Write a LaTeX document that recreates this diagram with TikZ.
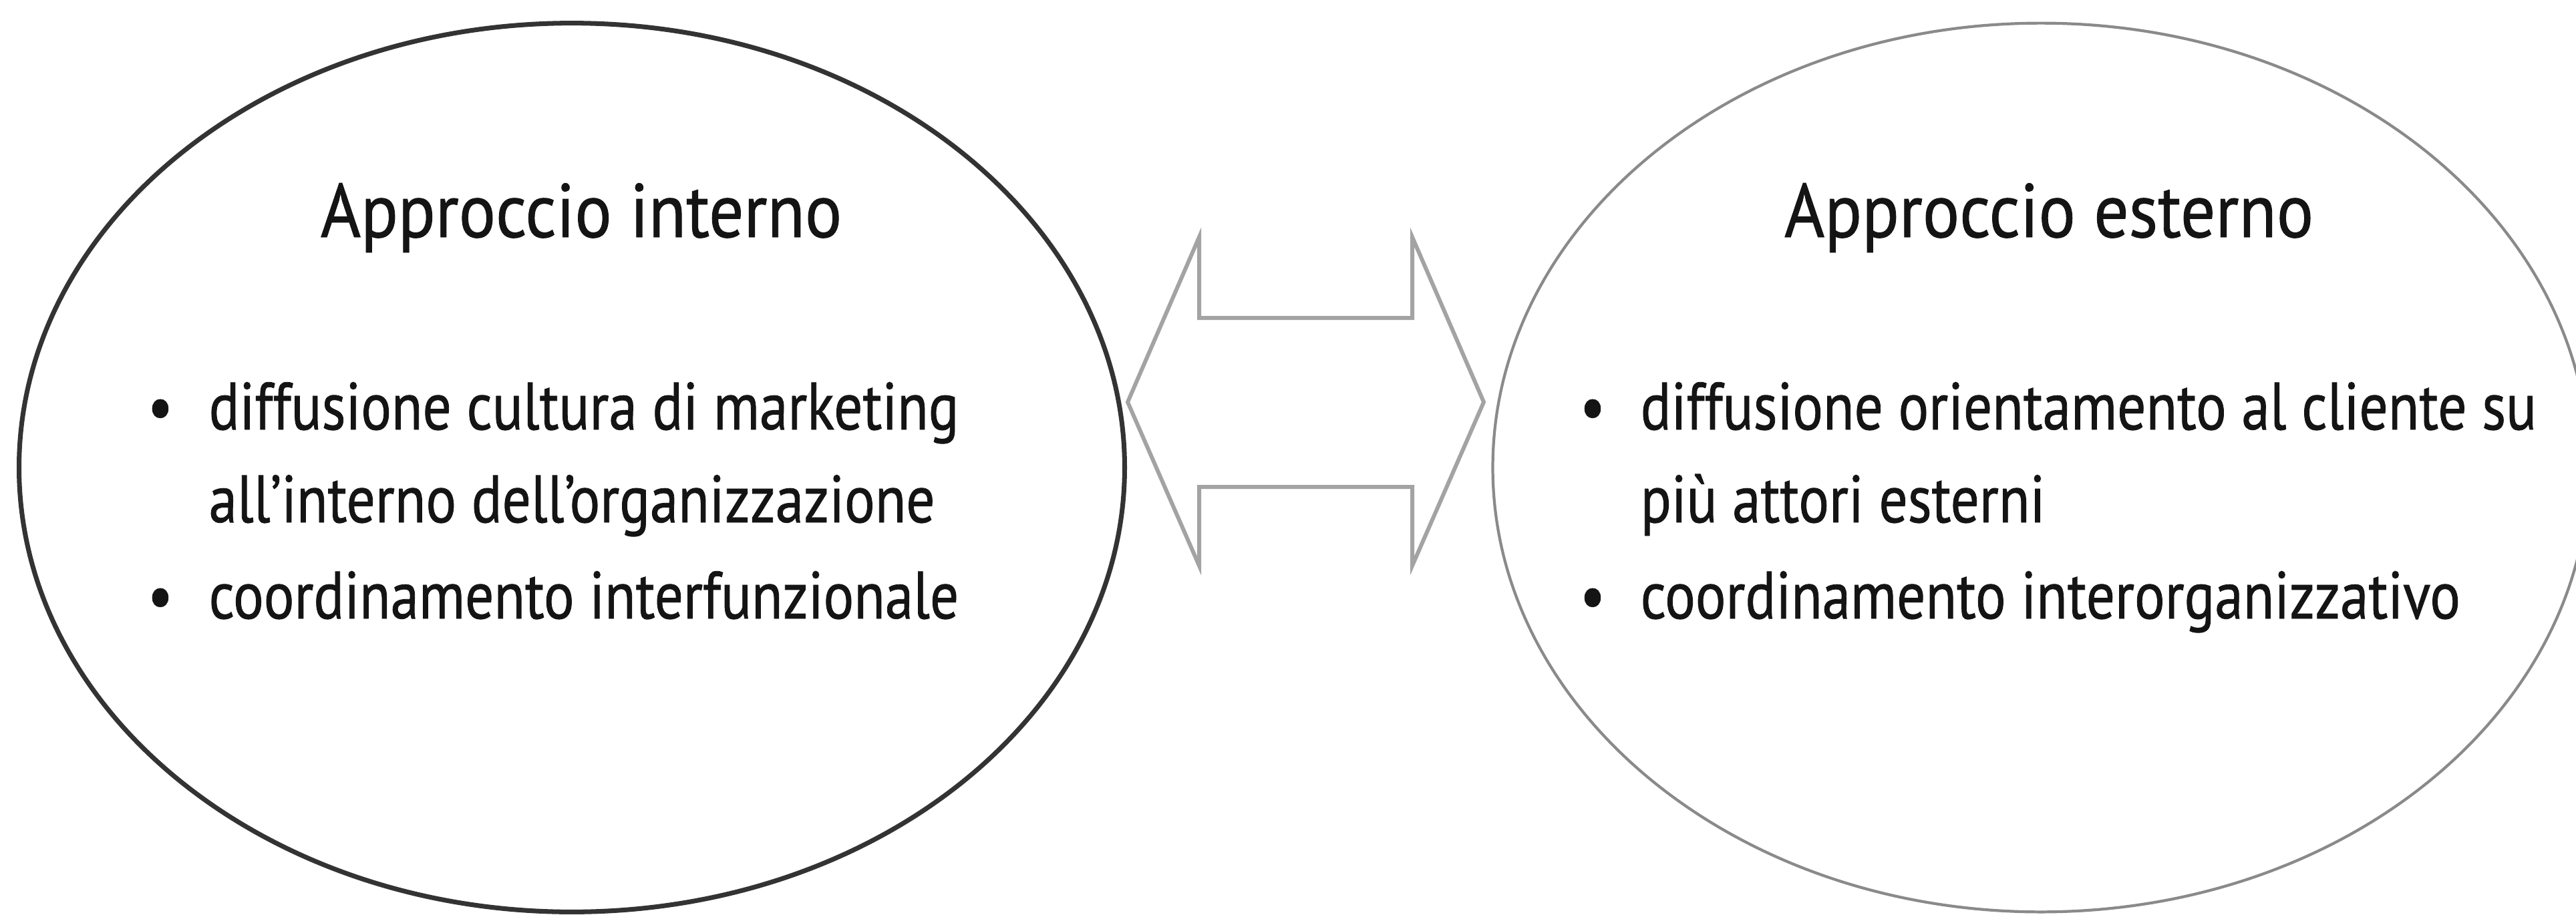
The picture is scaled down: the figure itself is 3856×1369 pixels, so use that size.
\documentclass[tikz,border=0pt]{standalone}
\usepackage{fontspec}
\setmainfont{PT Sans}
\newfontfamily\titlefont[FakeStretch=0.905, FakeBold=0.8]{PT Sans}
\newfontfamily\bodyfont[FakeStretch=0.85, FakeBold=0.8]{PT Sans}
\usetikzlibrary{shapes.geometric}
\definecolor{txt}{HTML}{141414}
\definecolor{edgeL}{HTML}{333333}
\definecolor{edgeR}{HTML}{8A8A8A}
\definecolor{arr}{HTML}{A3A3A3}
\begin{document}
\begin{tikzpicture}[x=0.01cm,y=-0.01cm,
  oval/.style={ellipse, inner sep=0pt},
  titletext/.style={anchor=base, inner sep=0pt, text=txt, font=\titlefont\fontsize{32.4}{36}\selectfont},
  bodytext/.style={anchor=base west, inner sep=0pt, text=txt, font=\bodyfont\fontsize{28.5}{32}\selectfont},
  bulletmark/.style={anchor=base west, inner sep=0pt, text=txt, font=\bodyfont\fontsize{28.5}{32}\selectfont}]
\useasboundingbox (0,0) rectangle (3856,1369);
\fill[white] (0,0) rectangle (3856,1369);
% ellipses
\node[oval, draw=edgeL, line width=2pt, minimum width=16.54cm, minimum height=13.30cm] (L) at (856,700) {};
\node[oval, draw=edgeR, line width=1.2pt, minimum width=16.40cm, minimum height=13.30cm] (R) at (3055,700) {};
% double arrow
\coordinate (tipL) at (1688,602);
\coordinate (tipR) at (2221,602);
\draw[arr, line width=1.7pt, line join=miter]
  (tipL) -- (1795,355) -- (1795,476) -- (2114,476) -- (2114,355) -- (tipR)
  -- (2114,847) -- (2114,729) -- (1795,729) -- (1795,847) -- cycle;
% left texts
\node[titletext] (tL) at (870,355) {Approccio interno};
\node[bulletmark] (bL1) at (220,643) {•};
\node[bodytext] (l1) at (312,643) {diffusione cultura di marketing};
\node[bodytext] (l2) at (312,782) {all’interno dell’organizzazione};
\node[bulletmark] (bL2) at (220,926) {•};
\node[bodytext] (l3) at (312,926) {coordinamento interfunzionale};
% right texts
\node[titletext] (tR) at (3067,355) {Approccio esterno};
\node[bulletmark] (bR1) at (2364,643) {•};
\node[bodytext] (r1) at (2455,643) {diffusione orientamento al cliente su};
\node[bodytext] (r2) at (2455,782) {più attori esterni};
\node[bulletmark] (bR2) at (2364,926) {•};
\node[bodytext] (r3) at (2455,926) {coordinamento interorganizzativo};
\end{tikzpicture}
\end{document}
